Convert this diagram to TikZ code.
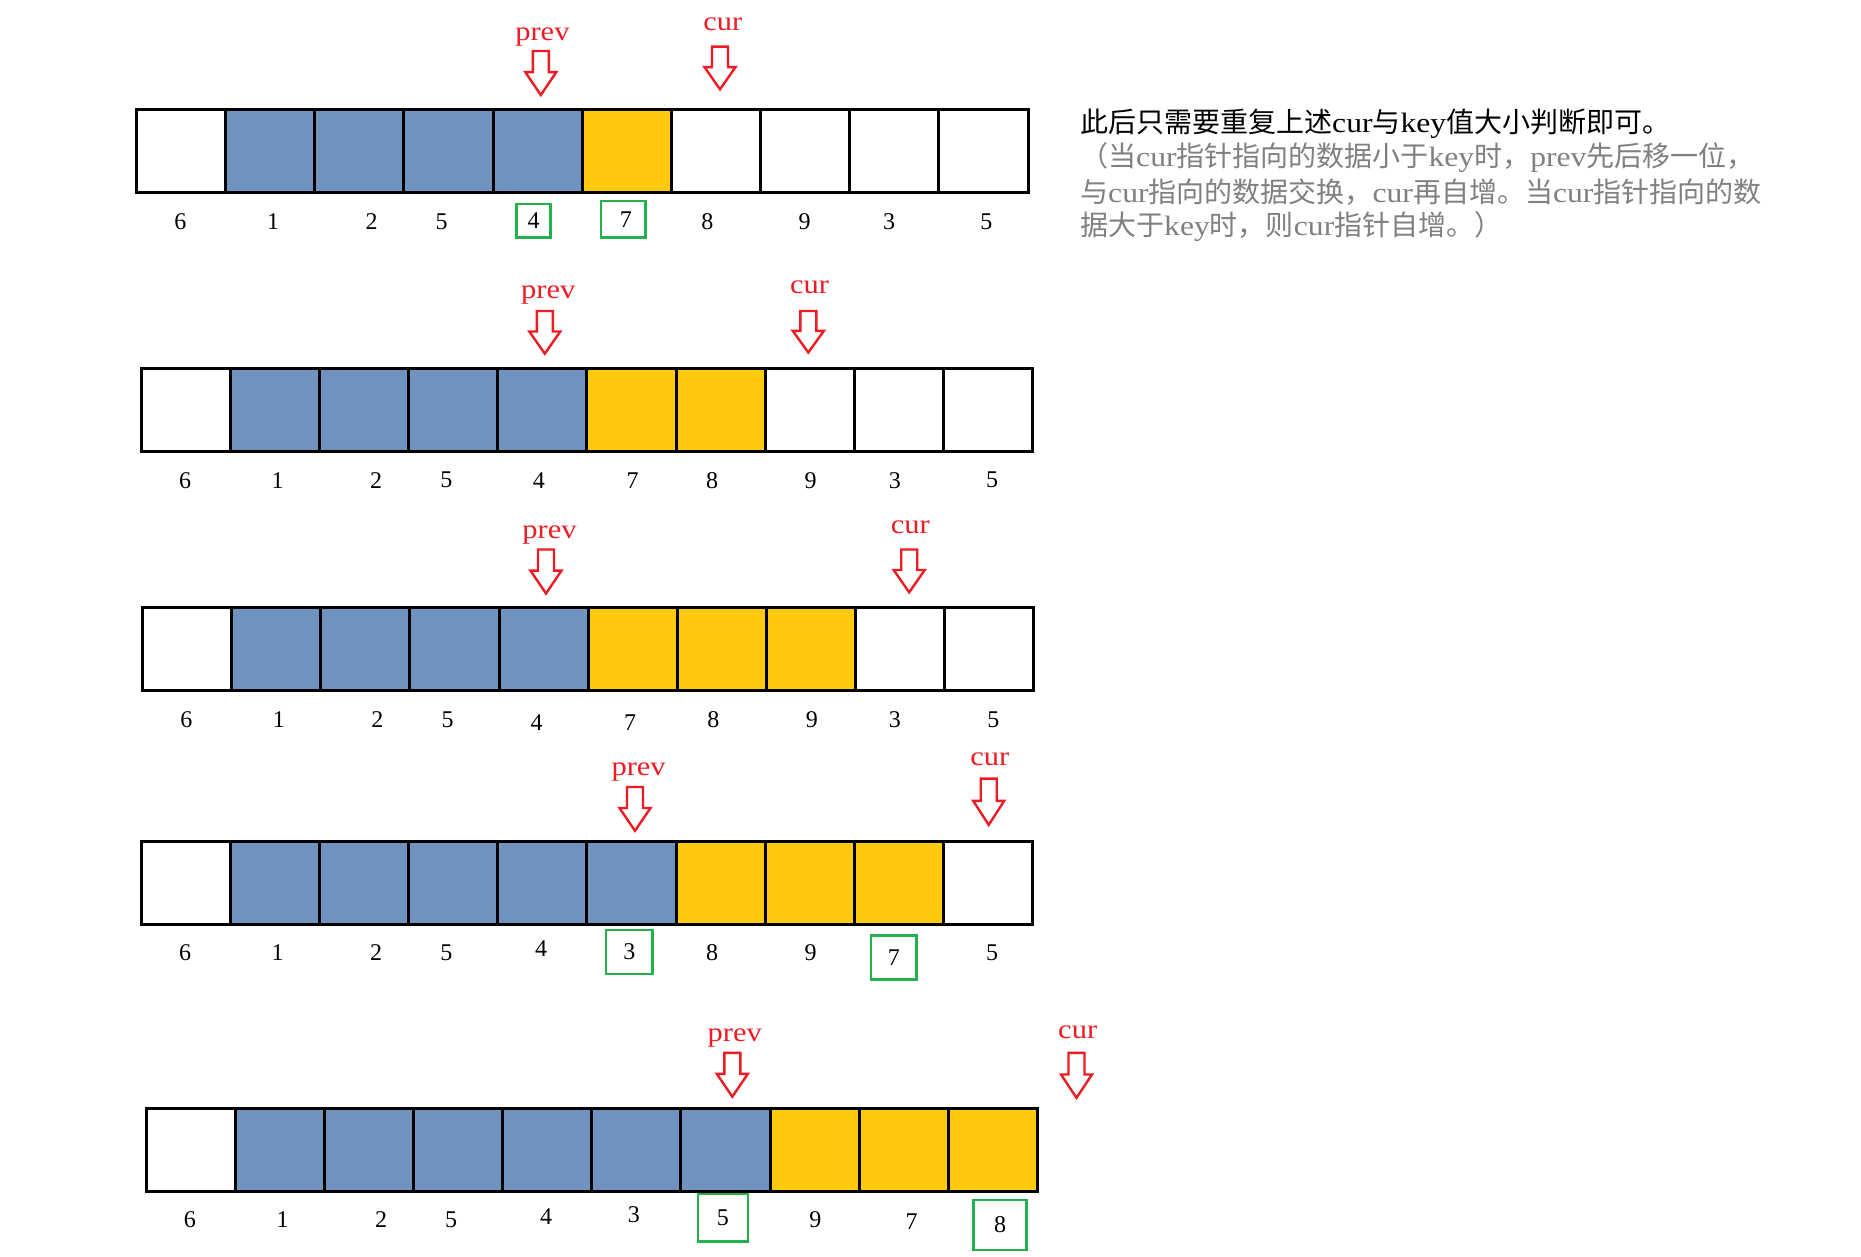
\documentclass[tikz,border=0pt]{standalone}
\usepackage{fontspec}
\setmainfont{Liberation Serif}
\newfontfamily\cjk{Noto Sans CJK SC}
\newfontfamily\wlat[FakeStretch=1.13]{Liberation Serif}
\definecolor{cblue}{RGB}{112,146,190}
\definecolor{cyellow}{RGB}{255,201,14}
\definecolor{cgreen}{RGB}{34,177,76}
\definecolor{cred}{RGB}{237,28,36}
\definecolor{cgray}{RGB}{128,128,128}
\tikzset{
  cellbox/.style={draw=black, line width=3pt, minimum width=89.15pt, minimum height=83pt, inner sep=0pt, outer sep=0pt},
  lbl/.style={font=\fontsize{24}{24}\selectfont, inner sep=0pt, text=black},
  gbox/.style={draw=cgreen, line width=2.6pt, inner sep=0pt, font=\fontsize{24}{24}\selectfont},
  ptrtext/.style={text=cred, font=\wlat\fontsize{27}{27}\selectfont, inner sep=0pt, anchor=base},
  ptrline/.style={draw=cred, line width=2.4pt, fill=white, line join=miter},
  note/.style={anchor=west, inner sep=0pt, font=\wlat\fontsize{28}{28}\selectfont}
}
\newcommand\cellrow[5]{%
  \foreach \i in {0,...,9}{%
    \ifnum\i=0 \def\fc{white}\else
      \ifnum\i<#4 \def\fc{cblue}\else
        \ifnum\i>#5 \def\fc{white}\else \def\fc{cyellow}\fi\fi\fi
    \node[cellbox, fill=\fc] (#1c\i) at ({#2+(\i+0.5)*89.15},{#3+41.5}) {};
  }%
}
\newcommand\ptr[4]{%
  \coordinate (#1) at (#2,#4);
  \draw[ptrline] ({#2-8},#3) -- ({#2+8},#3) -- ({#2+8},{#3+0.48*(#4-#3)})
    -- ({#2+15.5},{#3+0.48*(#4-#3)}) -- (#1) -- ({#2-15.5},{#3+0.48*(#4-#3)})
    -- ({#2-8},{#3+0.48*(#4-#3)}) -- cycle;
}
\begin{document}
\begin{tikzpicture}[x=1pt,y=-1pt]
\useasboundingbox[fill=white] (0,0) rectangle (1861,1257);

% ---------- row 1 ----------
\cellrow{r1}{136.5}{109.5}{5}{5}
\node[ptrtext] (r1prevt) at (542.4,40.8) {prev};
\node[ptrtext] (r1curt) at (722.8,30.5) {cur};
\ptr{r1prev}{540.8}{51}{95}
\ptr{r1cur}{720}{46.7}{89.3}
\node[lbl] (r1l0) at (180.4,221.5) {6};
\node[lbl] (r1l1) at (273.0,221.5) {1};
\node[lbl] (r1l2) at (371.5,221.5) {2};
\node[lbl] (r1l3) at (441.5,221.5) {5};
\node[gbox, minimum width=34.4pt, minimum height=33.3pt] (r1l4) at (533.5,220.8) {4};
\node[gbox, minimum width=44.7pt, minimum height=36.3pt, text width=44.7pt, align=center] (r1l5) at (623.4,219.2) {\hspace*{5pt}7};
\node[lbl] (r1l6) at (707.4,221.5) {8};
\node[lbl] (r1l7) at (804.7,221.5) {9};
\node[lbl] (r1l8) at (889.0,221.5) {3};
\node[lbl] (r1l9) at (986.3,221.5) {5};

% ---------- row 2 ----------
\cellrow{r2}{141.2}{368}{5}{6}
\node[ptrtext] (r2prevt) at (548.3,298.8) {prev};
\node[ptrtext] (r2curt) at (809.5,294) {cur};
\ptr{r2prev}{544.8}{311}{353.7}
\ptr{r2cur}{808.3}{311}{352.5}
\node[lbl] (r2l0) at (185.2,480.2) {6};
\node[lbl] (r2l1) at (277.7,480.2) {1};
\node[lbl] (r2l2) at (376.2,480.2) {2};
\node[lbl] (r2l3) at (446.3,480.2) {5};
\node[lbl] (r2l4) at (538.9,480.2) {4};
\node[lbl] (r2l5) at (632.6,480.2) {7};
\node[lbl] (r2l6) at (712.1,480.2) {8};
\node[lbl] (r2l7) at (810.7,480.2) {9};
\node[lbl] (r2l8) at (894.9,480.2) {3};
\node[lbl] (r2l9) at (992.2,480.2) {5};

% ---------- row 3 ----------
\cellrow{r3}{142.4}{607.7}{5}{7}
\node[ptrtext] (r3prevt) at (549.5,538.5) {prev};
\node[ptrtext] (r3curt) at (910.4,533.8) {cur};
\ptr{r3prev}{546}{549.5}{593.5}
\ptr{r3cur}{909.2}{549.5}{592.3}
\node[lbl] (r3l0) at (186.3,720) {6};
\node[lbl] (r3l1) at (278.9,720) {1};
\node[lbl] (r3l2) at (377.4,720) {2};
\node[lbl] (r3l3) at (447.5,720) {5};
\node[lbl] (r3l4) at (536.5,722.3) {4};
\node[lbl] (r3l5) at (630.2,722.3) {7};
\node[lbl] (r3l6) at (713.3,720) {8};
\node[lbl] (r3l7) at (811.8,720) {9};
\node[lbl] (r3l8) at (894.9,720) {3};
\node[lbl] (r3l9) at (993.4,720) {5};

% ---------- row 4 ----------
\cellrow{r4}{141.2}{841.5}{6}{8}
\node[ptrtext] (r4prevt) at (638.6,775.9) {prev};
\node[ptrtext] (r4curt) at (989.9,765.2) {cur};
\ptr{r4prev}{635}{787}{830.8}
\ptr{r4cur}{988.7}{778.6}{824.9}
\node[lbl] (r4l0) at (185.2,952.6) {6};
\node[lbl] (r4l1) at (277.7,952.6) {1};
\node[lbl] (r4l2) at (376.2,952.6) {2};
\node[lbl] (r4l3) at (446.3,952.6) {5};
\node[lbl] (r4l4) at (541.2,949) {4};
\node[gbox, minimum width=46.3pt, minimum height=44pt] (r4l5) at (629.3,951.8) {3};
\node[lbl] (r4l6) at (712.1,952.6) {8};
\node[lbl] (r4l7) at (810.7,952.6) {9};
\node[gbox, minimum width=45.4pt, minimum height=44.5pt] (r4l8) at (893.8,957.5) {7};
\node[lbl] (r4l9) at (992.2,952.6) {5};

% ---------- row 5 ----------
\cellrow{r5}{146}{1108.6}{7}{9}
\node[ptrtext] (r5prevt) at (734.7,1041.8) {prev};
\node[ptrtext] (r5curt) at (1077.7,1038.2) {cur};
\ptr{r5prev}{732.3}{1052.8}{1096.7}
\ptr{r5cur}{1076.5}{1052.8}{1097.9}
\node[lbl] (r5l0) at (189.9,1219.6) {6};
\node[lbl] (r5l1) at (282.5,1219.6) {1};
\node[lbl] (r5l2) at (381.0,1219.6) {2};
\node[lbl] (r5l3) at (451.0,1219.6) {5};
\node[lbl] (r5l4) at (546.0,1216.1) {4};
\node[lbl] (r5l5) at (633.8,1214.9) {3};
\node[gbox, minimum width=50pt, minimum height=47.5pt] (r5l6) at (722.9,1217.8) {5};
\node[lbl] (r5l7) at (815.4,1219.6) {9};
\node[lbl] (r5l8) at (911.5,1222) {7};
\node[gbox, minimum width=53.4pt, minimum height=49.8pt] (r5l9) at (1000,1224.9) {8};

% ---------- note ----------
\node[note, text=black] (n1) at (1080,123.5) {{\cjk 此后只需要重复上述}cur{\cjk 与}key{\cjk 值大小判断即可。}};
\node[note, text=cgray] (n2) at (1080,157.7) {{\cjk （当}cur{\cjk 指针指向的数据小于}key{\cjk 时，}prev{\cjk 先后移一位，}};
\node[note, text=cgray] (n3) at (1080,192) {{\cjk 与}cur{\cjk 指向的数据交换，}cur{\cjk 再自增。当}cur{\cjk 指针指向的数}};
\node[note, text=cgray] (n4) at (1080,226.5) {{\cjk 据大于}key{\cjk 时，则}cur{\cjk 指针自增。）}};
\end{tikzpicture}
\end{document}
